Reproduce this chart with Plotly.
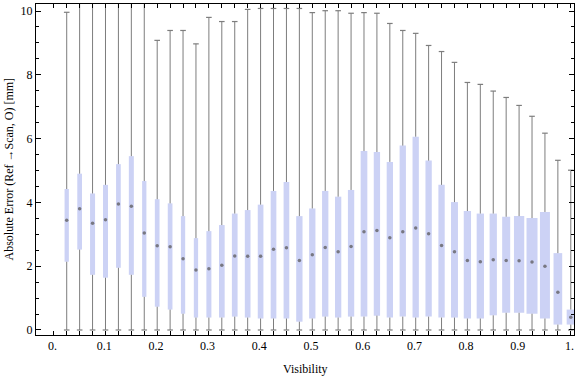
import plotly.graph_objects as go

# ---- data ----
visibility = [0.0025 + 0.025 * k for k in range(1, 41)]
whisker_max = [9.96, 11, 11, 11, 11, 11, 11, 9.08, 9.39, 9.39,
               8.97, 9.80, 9.67, 9.67, 10.05, 10.08, 10.08, 10.08, 10.08, 9.95,
               10.01, 10.01, 9.93, 9.95, 9.93, 9.61, 9.39, 9.30, 8.92, 8.73,
               8.39, 7.76, 7.70, 7.49, 7.29, 7.04, 6.70, 6.17, 5.32, 5.01]
whisker_min = [0.0] * 40
q3 = [4.42, 4.90, 4.28, 4.55, 5.20, 5.45, 4.67, 4.10, 3.97, 3.57,
      2.88, 3.10, 3.29, 3.65, 3.76, 3.93, 4.36, 4.64, 3.57, 3.81,
      4.36, 4.18, 4.39, 5.61, 5.58, 5.27, 5.78, 6.06, 5.31, 4.55,
      4.01, 3.73, 3.65, 3.65, 3.55, 3.57, 3.51, 3.70, 2.41, 0.64]
median = [3.44, 3.80, 3.35, 3.46, 3.95, 3.88, 3.04, 2.64, 2.61, 2.23,
          1.88, 1.92, 2.03, 2.32, 2.31, 2.31, 2.53, 2.58, 2.18, 2.36,
          2.59, 2.45, 2.62, 3.08, 3.12, 2.89, 3.08, 3.20, 3.02, 2.65,
          2.45, 2.18, 2.14, 2.20, 2.18, 2.17, 2.13, 2.00, 1.18, 0.40]
q1 = [2.14, 2.52, 1.73, 1.64, 1.95, 1.73, 1.04, 0.73, 0.64, 0.51,
      0.39, 0.39, 0.39, 0.42, 0.39, 0.36, 0.36, 0.36, 0.26, 0.36,
      0.42, 0.39, 0.42, 0.42, 0.45, 0.39, 0.42, 0.39, 0.42, 0.39,
      0.39, 0.36, 0.36, 0.46, 0.54, 0.54, 0.51, 0.36, 0.17, 0.17]
# relative box widths (as drawn, in Visibility units)
box_width = [0.0083, 0.0091, 0.0097, 0.0097, 0.0091, 0.0097, 0.0083, 0.0091, 0.0091, 0.0083,
             0.0083, 0.0097, 0.0110, 0.0110, 0.0110, 0.0110, 0.0110, 0.0110, 0.0122, 0.0122,
             0.0122, 0.0122, 0.0122, 0.0129, 0.0122, 0.0122, 0.0122, 0.0122, 0.0122, 0.0122,
             0.0135, 0.0141, 0.0141, 0.0141, 0.0155, 0.0199, 0.0213, 0.0193, 0.0168, 0.0160]

x_tick_vals = [0.0, 0.1, 0.2, 0.3, 0.4, 0.5, 0.6, 0.7, 0.8, 0.9, 1.0]
x_tick_text = ["0.", "0.1", "0.2", "0.3", "0.4", "0.5", "0.6", "0.7", "0.8", "0.9", "1."]
y_tick_vals = [0, 2, 4, 6, 8, 10]
frame_ticks = [0.0025] + visibility

BOX = "rgb(204,210,245)"
GRAY = "rgb(125,125,125)"
FONT = "Liberation Serif"

fig = go.Figure()

# boxes (floating bars)
fig.add_trace(go.Bar(
    x=visibility, base=q1, y=[a - b for a, b in zip(q3, q1)], width=box_width,
    marker=dict(color=BOX, line=dict(width=0)), showlegend=False, hoverinfo="skip"))

# whiskers: min->q1 and q3->max
wx, wy = [], []
for p, lo, a, b, hi in zip(visibility, whisker_min, q1, q3, whisker_max):
    wx += [p, p, None, p, p, None]
    wy += [lo, a, None, b, hi, None]
fig.add_trace(go.Scatter(x=wx, y=wy, mode="lines", line=dict(color=GRAY, width=1),
                         showlegend=False, hoverinfo="skip"))

# whisker caps
fig.add_trace(go.Scatter(
    x=visibility + visibility, y=whisker_min + whisker_max, mode="markers",
    marker=dict(symbol="line-ew", size=4, line=dict(color=GRAY, width=1.2)),
    showlegend=False, hoverinfo="skip", xaxis="x2", yaxis="y2"))

# medians
fig.add_trace(go.Scatter(
    x=visibility, y=median, mode="markers",
    marker=dict(symbol="circle", size=3.5, color="rgb(120,120,130)"),
    showlegend=False, hoverinfo="skip"))

xr = [-0.0319, 1.0087]
yr = [-0.157, 10.22]

fig.update_layout(
    width=576, height=377,
    margin=dict(l=36, r=2, t=4, b=42, autoexpand=False),
    paper_bgcolor="white", plot_bgcolor="white",
    barmode="overlay",
    font=dict(family=FONT, size=12, color="black"),
    xaxis=dict(range=xr, autorange=False, tickvals=x_tick_vals, ticktext=x_tick_text,
               ticks="inside", ticklen=0, showgrid=False, zeroline=False,
               showline=True, linecolor="black", linewidth=1, mirror=True,
               automargin=False,
               minor=dict(tickmode="array", tickvals=frame_ticks, ticks="inside",
                          ticklen=4, tickcolor="black", showgrid=False),
               tickfont=dict(family=FONT, size=12, color="black")),
    yaxis=dict(range=yr, autorange=False, tickvals=y_tick_vals, ticks="inside", ticklen=5,
               tickcolor="black", showgrid=False, zeroline=False,
               showline=True, linecolor="black", linewidth=1, mirror=True,
               automargin=False,
               minor=dict(dtick=0.5, tick0=0, ticks="inside", ticklen=3,
                          tickcolor="black", showgrid=False),
               tickfont=dict(family=FONT, size=12, color="black")),
    xaxis2=dict(overlaying="x", side="top", range=xr, autorange=False,
                showticklabels=False, automargin=False,
                tickmode="array", tickvals=frame_ticks, ticks="inside", ticklen=4,
                tickcolor="black", showgrid=False, zeroline=False, showline=False),
    yaxis2=dict(overlaying="y", side="right", range=yr, autorange=False,
                showticklabels=False, automargin=False,
                tickvals=y_tick_vals, ticks="inside", ticklen=5, tickcolor="black",
                showgrid=False, zeroline=False, showline=False,
                minor=dict(dtick=0.5, tick0=0, ticks="inside", ticklen=3,
                           tickcolor="black", showgrid=False)),
    annotations=[
        dict(text="Visibility", xref="paper", yref="paper", x=0.5, y=0,
             xanchor="center", yanchor="middle", yshift=-34, showarrow=False,
             font=dict(family=FONT, size=12, color="black")),
        dict(text="Absolute Error (Ref →Scan, O) [mm]", xref="paper", yref="paper",
             x=0, y=0.5, xanchor="center", yanchor="middle", xshift=-28,
             textangle=-90, showarrow=False,
             font=dict(family=FONT, size=12, color="black")),
    ],
)

fig.write_html("out.html", config={"displayModeBar": False},
               post_script="document.body.style.margin='0';")
